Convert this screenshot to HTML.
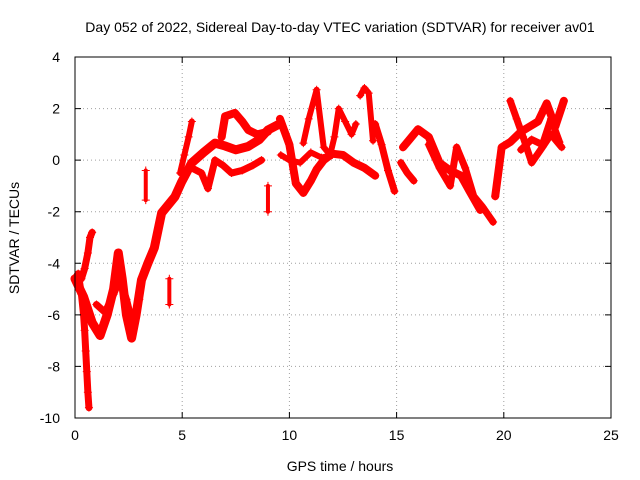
<!DOCTYPE html>
<html><head><meta charset="utf-8"><style>
body{margin:0;background:#fff}
svg{display:block;font-family:"Liberation Sans",Arial,sans-serif}
</style></head><body>
<svg id="chart" width="640" height="480" viewBox="0 0 640 480">
<rect width="640" height="480" fill="#fff"/>
<text x="340" y="32" font-size="14" text-anchor="middle">Day 052 of 2022, Sidereal Day-to-day VTEC variation (SDTVAR) for receiver av01</text>
<text x="340" y="471" font-size="14" text-anchor="middle">GPS time / hours</text>
<text transform="translate(19,238) rotate(-90)" font-size="14" text-anchor="middle">SDTVAR / TECUs</text>
<g id="grid"></g><g id="marks"></g><g id="axes"></g>
</svg>
<script>
const xTicks=[0,5,10,15,20,25];
const yTicks=[-10,-8,-6,-4,-2,0,2,4];
const trackT1=[0,0.15,0.3,0.4,0.45,0.5,0.55,0.6,0.65];
const trackV1=[-4.6,-4.4,-5.2,-6,-6.6,-7.4,-8.2,-9,-9.6];
const trackT2=[0.3,0.45,0.6,0.7,0.8];
const trackV2=[-4.6,-4.2,-3.6,-3,-2.8];
const trackT3=[0,0.4,0.8,1.17,1.5,1.8,2.02,2.2,2.4,2.64,2.85,3.1,3.4,3.7,4.04,4.66,4.97,5.44,6.0,6.53,7.0,7.5,8.08,8.6,9.0,9.6];
const trackV3=[-4.6,-5.3,-6.3,-6.8,-6.0,-5.0,-3.6,-4.6,-6.0,-6.9,-6.0,-4.65,-4.0,-3.4,-2.05,-1.42,-0.85,-0.11,0.3,0.66,0.55,0.4,0.53,0.8,1.17,1.43];
const trackT4=[1.0,1.4,1.8,2.1,2.4,2.7,3.0];
const trackV4=[-5.6,-5.9,-5.2,-4.6,-5.4,-6.4,-5.4];
const trackT5=[6.84,7.0,7.46,7.8,8.08,8.5,9.0];
const trackV5=[0.9,1.7,1.83,1.5,1.17,1.0,1.1];
const trackT6=[5.44,5.9,6.2,6.53,6.9,7.3,7.8,8.3,8.7];
const trackV6=[-0.3,-0.5,-1.1,0.0,-0.2,-0.5,-0.4,-0.2,0.0];
const trackT7=[4.9,5.1,5.3,5.45];
const trackV7=[-0.5,0.2,0.9,1.5];
const trackT8=[9.56,10.0,10.3,10.65,11.0,11.27,11.6,12.0,12.5,13.0,13.5,14.0];
const trackV8=[1.6,0.6,-0.9,-1.27,-0.8,-0.36,0.0,0.25,0.2,-0.1,-0.3,-0.6];
const trackT9=[9.6,10.0,10.5,11.0,11.5,12.0];
const trackV9=[0.2,0.0,-0.1,0.3,0.1,0.2];
const trackT10=[10.65,10.9,11.27,11.6,11.9,12.1,12.3,12.6,12.9,13.1];
const trackV10=[0.66,1.6,2.73,0.5,0.2,0.9,2.0,1.5,1.0,1.4];
const trackT11=[13.3,13.5,13.7,13.9];
const trackV11=[2.5,2.8,2.6,0.75];
const trackT12=[14.0,14.3,14.6,14.9];
const trackV12=[1.4,0.6,-0.4,-1.2];
const trackT13=[15.3,15.6,16.0,16.5,17.0,17.5,18.0,18.4,18.9];
const trackV13=[0.5,0.8,1.2,0.9,-0.1,-0.4,-0.6,-1.2,-1.93];
const trackT14=[16.5,17.0,17.5,17.8,18.2,18.6,19.0,19.5];
const trackV14=[0.6,-0.3,-1.0,0.5,-0.3,-1.4,-1.8,-2.4];
const trackT15=[15.2,15.5,15.8];
const trackV15=[-0.1,-0.5,-0.8];
const trackT16=[19.6,19.9,20.3,20.8,21.2,21.6,22.0,22.4,22.8];
const trackV16=[-1.4,0.5,0.7,1.1,1.3,1.5,2.2,1.3,2.3];
const trackT17=[20.3,20.6,20.9,21.3,21.8,22.2,22.7];
const trackV17=[2.3,1.6,0.9,-0.1,0.5,1.0,0.5];
const trackT18=[20.8,21.3,21.8,22.2,22.6];
const trackV18=[0.4,0.8,0.6,1.6,0.7];
const trackT19=[3.3,3.3];
const trackV19=[-0.4,-1.55];
const trackT20=[4.4,4.4];
const trackV20=[-4.6,-5.6];
const trackT21=[9.0,9.0];
const trackV21=[-1.0,-2.0];
const tracksT=[trackT1,trackT2,trackT3,trackT4,trackT5,trackT6,trackT7,trackT8,trackT9,trackT10,trackT11,trackT12,trackT13,trackT14,trackT15,trackT16,trackT17,trackT18,trackT19,trackT20,trackT21];
const tracksV=[trackV1,trackV2,trackV3,trackV4,trackV5,trackV6,trackV7,trackV8,trackV9,trackV10,trackV11,trackV12,trackV13,trackV14,trackV15,trackV16,trackV17,trackV18,trackV19,trackV20,trackV21];
const widths=[7,7,9,7,8,7,6,8,6,6,6,7,8,7,7,8,7,7,4,4,4];
const X0=75,X1=611,Y0=418,Y1=57;
const xs=t=>X0+(t-0)/(25-0)*(X1-X0);
const ys=v=>Y0-(v+10)/(4+10)*(Y0-Y1);
const NS="http://www.w3.org/2000/svg";
function mk(tag,attrs,parent){const e=document.createElementNS(NS,tag);for(const k in attrs)e.setAttribute(k,attrs[k]);parent.appendChild(e);return e;}
const grid=document.getElementById('grid'),axes=document.getElementById('axes'),marks=document.getElementById('marks');
xTicks.forEach(t=>{
  if(t>0&&t<25){const g=mk('line',{x1:xs(t),x2:xs(t),y1:Y0,y2:Y1,stroke:'#a0a0a0','stroke-dasharray':'1,3'},grid);
  
  }
  const tk=mk('path',{d:`M${xs(t)},${Y0}v-6M${xs(t)},${Y1}v6`,stroke:'#000'},axes);
  
  
  const lb=mk('text',{x:xs(t),y:Y0+22,'font-size':14,'text-anchor':'middle'},axes);lb.textContent=t;
  
  
});
yTicks.forEach(v=>{
  if(v>-10&&v<4){const g=mk('line',{x1:X0,x2:X1,y1:ys(v),y2:ys(v),stroke:'#a0a0a0','stroke-dasharray':'1,3'},grid);
  
  }
  const tk=mk('path',{d:`M${X0},${ys(v)}h6M${X1},${ys(v)}h-6`,stroke:'#000'},axes);
  
  
  const lb=mk('text',{x:X0-15,y:ys(v)+5,'font-size':14,'text-anchor':'end'},axes);lb.textContent=v;
  
  
});
const frame=mk('rect',{x:X0,y:Y1,width:X1-X0,height:Y0-Y1,fill:'none',stroke:'#000'},axes);


tracksT.forEach((T,i)=>{
  const V=tracksV[i];
  const pts=T.map((t,j)=>xs(t)+','+ys(V[j])).join(' ');
  const pl=mk('polyline',{points:pts,fill:'none',stroke:'#f00','stroke-width':widths[i],'stroke-linejoin':'round','stroke-linecap':'round'},marks);
  
  
  T.forEach((t,j)=>{
    const x=xs(t),y=ys(V[j]);
    const p=mk('path',{d:`M${x-4},${y}h8M${x},${y-4}v8`,stroke:'#f00','stroke-width':1},marks);
    
    
  });
});
</script>
</body></html>
